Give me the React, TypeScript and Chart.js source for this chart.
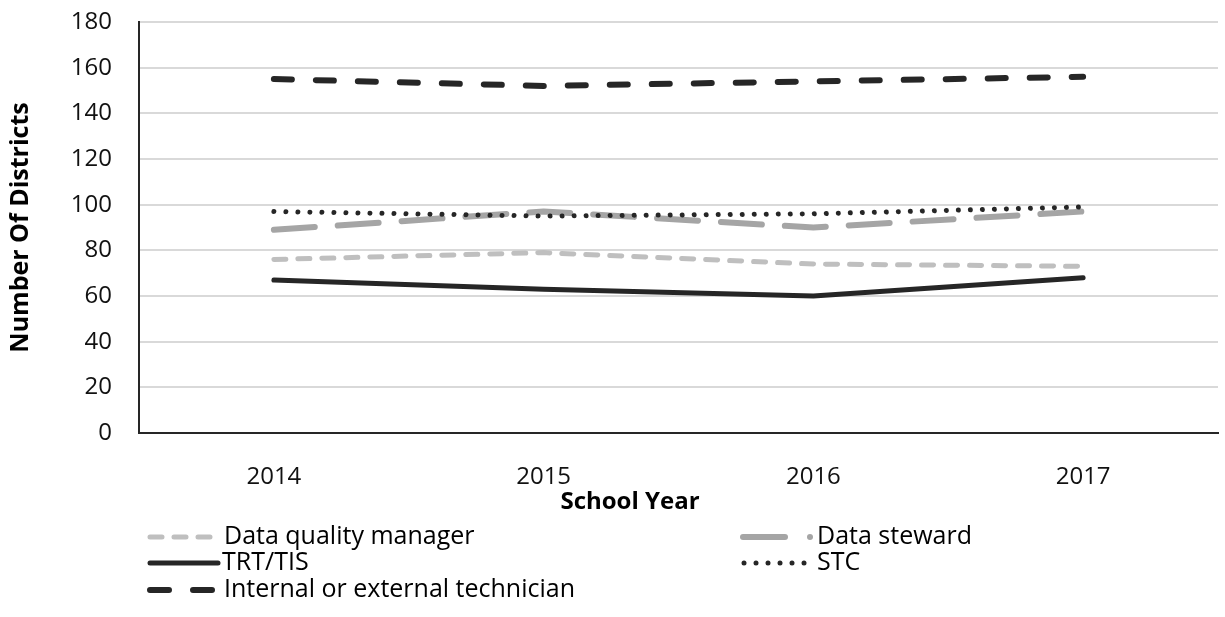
import React, { useEffect, useRef } from "react";
import { Chart, registerables } from "chart.js";

Chart.register(...registerables);

const categories = ["2014", "2015", "2016", "2017"];
const dataQualityManager = [76, 79, 74, 73];
const dataSteward = [89, 97, 90, 97];
const trtTis = [67, 63, 60, 68];
const stc = [97, 95, 96, 99];
const technician = [155, 152, 154, 156];
const seriesNames = [
  "Data quality manager",
  "Data steward",
  "TRT/TIS",
  "STC",
  "Internal or external technician",
];
const yTitle = "Number Of Districts";
const xTitle = "School Year";

const FONT = "'Open Sans', 'Noto Sans', sans-serif";
const DARK = "#262626";

const extrasPlugin = {
  id: "extras",
  afterDraw(chart: any) {
    const ctx = chart.ctx as CanvasRenderingContext2D;
    const area = chart.chartArea;
    ctx.save();
    ctx.fillStyle = "#000";
    ctx.font = `bold 25px ${FONT}`;
    ctx.textAlign = "center";
    ctx.textBaseline = "middle";
    ctx.translate(21, (area.top + area.bottom) / 2);
    ctx.rotate(-Math.PI / 2);
    ctx.fillText(yTitle, 0, 0);
    ctx.restore();

    ctx.save();
    ctx.fillStyle = "#000";
    ctx.font = `bold 24px ${FONT}`;
    ctx.textAlign = "center";
    ctx.textBaseline = "middle";
    ctx.fillText(xTitle, 630, 502);
    ctx.restore();

    const ds = chart.data.datasets;
    const rows = [537, 563, 590];
    const drawText = (t: string, x: number, y: number) => {
      ctx.save();
      ctx.fillStyle = "#000";
      ctx.font = `25px ${FONT}`;
      ctx.textAlign = "left";
      ctx.textBaseline = "middle";
      ctx.fillText(t, x, y);
      ctx.restore();
    };
    const seg = (x0: number, x1: number, y: number, color: string, w: number, dash: number[]) => {
      ctx.save();
      ctx.strokeStyle = color;
      ctx.lineWidth = w;
      ctx.lineCap = "round";
      ctx.setLineDash(dash);
      ctx.beginPath();
      ctx.moveTo(x0, y);
      ctx.lineTo(x1, y);
      ctx.stroke();
      ctx.restore();
    };
    const dot = (x: number, y: number, r: number, color: string) => {
      ctx.save();
      ctx.fillStyle = color;
      ctx.beginPath();
      ctx.arc(x, y, r, 0, Math.PI * 2);
      ctx.fill();
      ctx.restore();
    };
    seg(150, 211, rows[0], ds[0].borderColor, 5, [12, 12]);
    drawText(ds[0].label, 224, rows[0]);
    seg(150, 218, rows[1], ds[2].borderColor, 5, []);
    drawText(ds[2].label, 222, rows[1]);
    seg(150, 213, rows[2], ds[4].borderColor, 6, [19, 24]);
    drawText(ds[4].label, 224, rows[2]);
    seg(743, 785, rows[0], ds[1].borderColor, 6, []);
    dot(810, rows[0], 3, ds[1].borderColor);
    drawText(ds[1].label, 817, rows[0]);
    for (let i = 0; i < 6; i++) dot(744 + i * 12, rows[1], 2.5, ds[3].borderColor);
    drawText(ds[3].label, 817, rows[1]);
  },
};

export default function App() {
  const ref = useRef<HTMLCanvasElement | null>(null);
  useEffect(() => {
    if (!ref.current) return;
    const common = {
      pointRadius: 0,
      pointHoverRadius: 0,
      fill: false,
      tension: 0,
      borderCapStyle: "round" as const,
      borderJoinStyle: "round" as const,
    };
    const chart = new Chart(ref.current, {
      type: "line",
      data: {
        labels: categories,
        datasets: [
          { ...common, label: seriesNames[0], data: dataQualityManager, borderColor: "#BFBFBF", borderWidth: 5, borderDash: [12, 12], order: 2 },
          { ...common, label: seriesNames[1], data: dataSteward, borderColor: "#A5A5A5", borderWidth: 6, borderDash: [41, 23], order: 3 },
          { ...common, label: seriesNames[2], data: trtTis, borderColor: DARK, borderWidth: 5, order: 1 },
          { ...common, label: seriesNames[3], data: stc, borderColor: DARK, borderWidth: 5, borderDash: [0.01, 12], order: 0 },
          { ...common, label: seriesNames[4], data: technician, borderColor: DARK, borderWidth: 6, borderDash: [18, 24], order: 1 },
        ],
      },
      options: {
        responsive: false,
        animation: false,
        events: [],
        layout: { padding: { top: 22, right: 7, left: 0, bottom: 0 } },
        plugins: { legend: { display: false }, tooltip: { enabled: false }, title: { display: false } },
        scales: {
          x: {
            offset: true,
            grid: { display: false },
            border: { display: true, color: DARK, width: 2 },
            ticks: { color: "#111", font: { family: FONT, size: 24 }, padding: 22 },
            afterFit: (s: any) => { s.height = 184; s.paddingLeft = 0; s.paddingRight = 0; },
          },
          y: {
            min: 0,
            max: 180,
            ticks: { stepSize: 20, color: "#111", font: { family: FONT, size: 24 }, padding: 27 },
            grid: { color: "#D9D9D9", lineWidth: 2, drawTicks: false },
            border: { display: true, color: DARK, width: 2 },
            afterFit: (s: any) => { s.width = 139; s.paddingTop = 0; s.paddingBottom = 0; },
          },
        },
      },
      plugins: [extrasPlugin],
    });
    return () => chart.destroy();
  }, []);
  return (
    <div style={{ position: "absolute", left: 0, top: 0, width: 1225, height: 617, background: "#fff" }}>
      <canvas ref={ref} width={1225} height={617} style={{ display: "block" }} />
    </div>
  );
}
